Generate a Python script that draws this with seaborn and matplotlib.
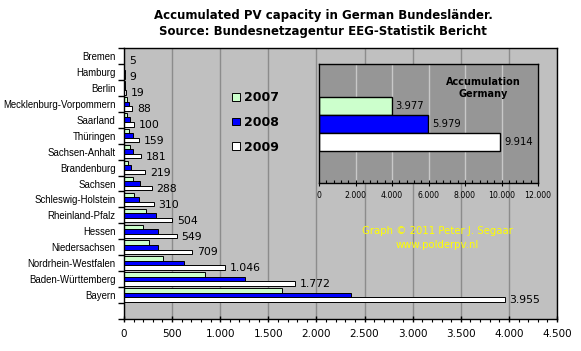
import matplotlib
matplotlib.use("Agg")
import matplotlib.pyplot as plt
import seaborn as sns
import pandas as pd
import numpy as np
from matplotlib.ticker import MultipleLocator, FuncFormatter

# ---------------- data ----------------
states = ["Bremen", "Hamburg", "Berlin", "Mecklenburg-Vorpommern", "Saarland",
          "Thüringen", "Sachsen-Anhalt", "Brandenburg", "Sachsen",
          "Schleswig-Holstein", "Rheinland-Pfalz", "Hessen", "Niedersachsen",
          "Nordrhein-Westfalen", "Baden-Württemberg", "Bayern"]
years = ["2007", "2008", "2009"]
mw_2007 = [2, 4, 10, 35, 35, 52, 59, 46, 98, 104, 229, 198, 261, 407, 838, 1641]
mw_2008 = [3, 6, 14, 52, 66, 94, 98, 77, 167, 156, 334, 355, 358, 619, 1255, 2361]
mw_2009 = [5, 9, 19, 88, 100, 159, 181, 219, 288, 310, 504, 549, 709, 1046, 1772, 3955]
germany_total = [3977, 5979, 9914]
year_colors = ["#CCFFCC", "#0000FF", "#FFFFFF"]

title_1 = "Accumulated PV capacity in German Bundesländer."
title_2 = "Source: Bundesnetzagentur EEG-Statistik Bericht"
inset_title = "Accumulation\nGermany"
credit_1 = "Graph © 2011 Peter J. Segaar"
credit_2 = "www.polderpv.nl"

df = pd.DataFrame({
    "state": states * 3,
    "year": sum([[y] * len(states) for y in years], []),
    "value": mw_2007 + mw_2008 + mw_2009,
})


def fmt(v, pos=None):
    return f"{int(round(v)):,}".replace(",", ".")


W, H = 581, 351
fig = plt.figure(figsize=(W / 100, H / 100), dpi=100)
fig.patch.set_facecolor("white")

# ---------------- main axes ----------------
ax = fig.add_axes([124 / W, 1 - 319 / H, (557 - 124) / W, (319 - 48) / H])
ax.set_facecolor("#C0C0C0")
sns.barplot(data=df, y="state", x="value", hue="year", order=states,
            hue_order=years, palette=year_colors, orient="h", width=0.85,
            edgecolor="black", linewidth=0.7, saturation=1, errorbar=None,
            ax=ax)
ax.set_xlim(0, 4500)
ax.set_ylim(len(states) + 0.5, -0.5)
ax.set_xlabel("")
ax.set_ylabel("")
ax.xaxis.set_major_locator(MultipleLocator(500))
ax.xaxis.set_minor_locator(MultipleLocator(100))
ax.xaxis.set_major_formatter(FuncFormatter(fmt))
ax.grid(axis="x", which="major", color="#8C8C8C", linewidth=1)
ax.grid(axis="y", visible=False)
ax.set_axisbelow(True)
ax.tick_params(axis="x", which="major", direction="inout", length=5, width=1,
               pad=5, labelsize=7.5, colors="black")
ax.tick_params(axis="x", which="minor", direction="out", length=2.5, width=0.8)

ax.set_yticks(np.arange(-0.5, len(states) + 1, 1))
ax.set_yticklabels([])
ax.set_yticks(np.arange(len(states)), minor=True)
ax.set_yticklabels(states, minor=True, fontfamily="Liberation Sans", fontsize=6.9)
ax.tick_params(axis="y", which="major", direction="out", length=4, width=1)
ax.tick_params(axis="y", which="minor", length=0, pad=6)
for s in ax.spines.values():
    s.set_color("black")
    s.set_linewidth(1)

for bar in ax.containers[2]:
    v = bar.get_width()
    ax.annotate(fmt(v), xy=(v, bar.get_y() + bar.get_height() / 2),
                xytext=(3.5, -0.5), textcoords="offset points",
                ha="left", va="center", fontsize=7.8)

handles, labels = ax.get_legend_handles_labels()
ax.legend(handles, labels, loc="upper left",
          bbox_to_anchor=(232 / W, 1 - 91 / H), bbox_transform=fig.transFigure,
          frameon=False, prop={"weight": "bold", "size": 9},
          handlelength=0.6, handleheight=0.6, handletextpad=0.35,
          labelspacing=0.95, borderpad=0, borderaxespad=0)

# ---------------- inset axes ----------------
axi = fig.add_axes([319 / W, 1 - 183 / H, (538 - 319) / W, (183 - 64) / H])
axi.set_facecolor("#969696")
sns.barplot(x=germany_total, y=years, hue=years, palette=year_colors,
            legend=False, orient="h", width=1.0, edgecolor="black",
            linewidth=1, saturation=1, errorbar=None, ax=axi)
axi.set_xlim(0, 12000)
axi.set_ylim(4.29, -2.32)
axi.set_xlabel("")
axi.set_ylabel("")
axi.set_yticks([])
axi.xaxis.set_major_locator(MultipleLocator(2000))
axi.xaxis.set_minor_locator(MultipleLocator(400))
axi.xaxis.set_major_formatter(FuncFormatter(fmt))
axi.grid(axis="x", which="major", color="#C8C8C8", linewidth=1)
axi.grid(axis="y", visible=False)
axi.set_axisbelow(True)
axi.tick_params(axis="x", which="major", direction="inout", length=4, width=0.8,
                pad=4, labelsize=5.6)
axi.tick_params(axis="x", which="minor", direction="in", length=2, width=0.8)
for s in axi.spines.values():
    s.set_color("black")
    s.set_linewidth(1)
for bar in axi.patches:
    v = bar.get_width()
    axi.annotate(fmt(v), xy=(v, bar.get_y() + bar.get_height() / 2),
                 xytext=(3, 0), textcoords="offset points",
                 ha="left", va="center", fontsize=7.2)
axi.text(0.75, 0.80, inset_title, transform=axi.transAxes, ha="center",
         va="center", fontsize=7, fontweight="bold", linespacing=1.25)

# ---------------- texts ----------------
fig.text(323 / W, 1 - 15 / H, title_1, ha="center", va="center",
         fontsize=8.5, fontweight="bold")
fig.text(323 / W, 1 - 32 / H, title_2, ha="center", va="center",
         fontsize=8.5, fontweight="bold")
fig.text(437 / W, 1 - 231 / H, credit_1, ha="center", va="center",
         fontsize=7.3, color="#FFFF00")
fig.text(437 / W, 1 - 245 / H, credit_2, ha="center", va="center",
         fontsize=7.3, color="#FFFF00")

fig.savefig("out.png", dpi=100)
